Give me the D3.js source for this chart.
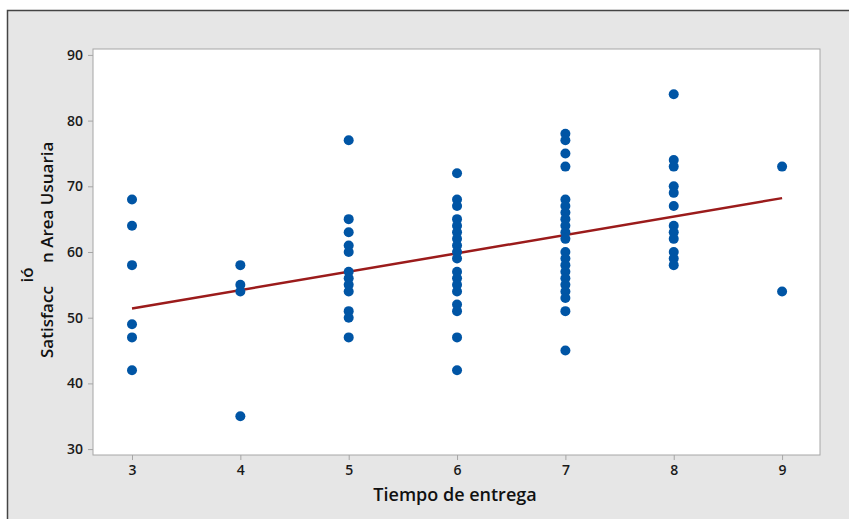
<!DOCTYPE html>
<html lang="es">
<head>
<meta charset="UTF-8">
<title>Gráfica de línea ajustada</title>
<script src="https://cdn.jsdelivr.net/npm/d3@7"></script>
<style>
  body { margin: 0; background: #fff; }
  svg { display: block; }
  text { font-family: "Open Sans", "Noto Sans", sans-serif; }
</style>
</head>
<body>
<svg width="849" height="519"></svg>
<script>
// Tiempo de entrega (x) and Satisfacción Área Usuaria (y) values, by group of x
var tiempo = [3, 4, 5, 6, 7, 8, 9];
var satisfaccion = [
  [68, 64, 58, 49, 47, 42],
  [58, 55, 54, 35],
  [77, 65, 63, 61, 60, 57, 56, 55, 54, 51, 50, 47],
  [72, 68, 67, 65, 64, 63, 62, 61, 60, 59, 57, 56, 55, 54, 52, 51, 47, 42],
  [78, 77, 75, 73, 68, 67, 66, 65, 64, 63, 62, 60, 59, 58, 57, 56, 55, 54, 53, 51, 45],
  [84, 74, 73, 70, 69, 67, 64, 63, 62, 60, 59, 58],
  [73, 54]
];
// fitted line y = b0 + b1 * x
var ajuste = [43.0, 2.8];
var xTicks = [3, 4, 5, 6, 7, 8, 9];
var yTicks = [30, 40, 50, 60, 70, 80, 90];

var points = [];
tiempo.forEach(function(t, i) {
    satisfaccion[i].forEach(function(v) { points.push({x: t, y: v}); });
});

var svg = d3.select("svg");

// outer frame
svg.append("rect")
    .attr("x", 7.5).attr("y", 10.5)
    .attr("width", 860).attr("height", 530)
    .attr("fill", "#e6e6e6")
    .attr("stroke", "#444")
    .attr("stroke-width", 1.5);

var plotL = 93, plotR = 820, plotT = 49, plotB = 455;

var x = d3.scaleLinear().domain([2.64, 9.35]).range([plotL, plotR]);
var y = d3.scaleLinear().domain([29.1, 90.9]).range([plotB, plotT]);

// plot area
svg.append("rect")
    .attr("x", plotL).attr("y", plotT)
    .attr("width", plotR - plotL).attr("height", plotB - plotT)
    .attr("fill", "#fff")
    .attr("stroke", "#a6a6a6")
    .attr("stroke-width", 1);

var gx = svg.append("g")
    .attr("transform", "translate(0," + plotB + ")")
    .call(d3.axisBottom(x).tickValues(xTicks).tickFormat(d3.format("d")).tickSize(5).tickPadding(5));
var gy = svg.append("g")
    .attr("transform", "translate(" + plotL + ",0)")
    .call(d3.axisLeft(y).tickValues(yTicks).tickFormat(d3.format("d")).tickSize(5).tickPadding(5));

[gx, gy].forEach(function(g) {
    g.select(".domain").remove();
    g.selectAll(".tick line").attr("stroke", "#a6a6a6");
    g.selectAll(".tick text")
        .attr("fill", "#1a1a1a")
        .style("font-size", "14px")
        .style("font-weight", 600);
});

// fitted line
svg.append("line")
    .attr("x1", x(tiempo[0])).attr("y1", y(ajuste[0] + ajuste[1] * tiempo[0]))
    .attr("x2", x(tiempo[tiempo.length - 1])).attr("y2", y(ajuste[0] + ajuste[1] * tiempo[tiempo.length - 1]))
    .attr("stroke", "#9b1b1b")
    .attr("stroke-width", 2.5);

// points
svg.append("g")
    .selectAll("circle")
    .data(points)
    .join("circle")
    .attr("cx", function(d) { return x(d.x); })
    .attr("cy", function(d) { return y(d.y); })
    .attr("r", 5)
    .attr("fill", "#0055a5");

// x title
svg.append("text")
    .attr("x", 455).attr("y", 501)
    .attr("text-anchor", "middle")
    .style("font-size", "18px")
    .style("font-weight", 600)
    .attr("fill", "#111")
    .text("Tiempo de entrega");

// y title (as rendered in the original, with "ió" pushed onto its own line)
var yt = svg.append("g")
    .style("font-size", "17px")
    .style("font-weight", 600)
    .attr("fill", "#111");
yt.append("text")
    .attr("transform", "translate(53,358) rotate(-90)")
    .text("Satisfacc");
yt.append("text")
    .attr("transform", "translate(53,263) rotate(-90)")
    .text("n Area Usuaria");
yt.append("text")
    .attr("transform", "translate(33,275) rotate(-90)")
    .attr("text-anchor", "middle")
    .text("ió");
</script>
</body>
</html>
